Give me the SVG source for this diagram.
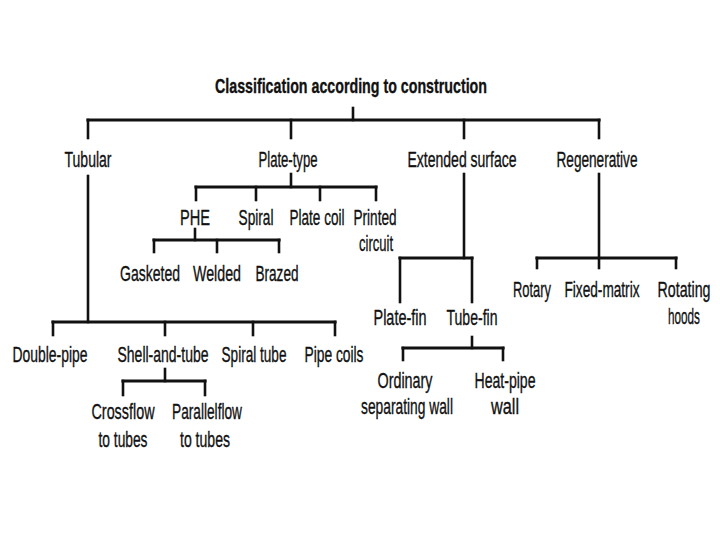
<svg xmlns="http://www.w3.org/2000/svg" width="720" height="540" viewBox="0 0 720 540">
<style>
text{font-family:"Liberation Sans",Arial,sans-serif;font-size:22px;fill:#111;stroke:#111;stroke-width:0.35;text-anchor:middle}
.t{font-weight:bold;font-size:21px}
.c line{stroke:#111;stroke-width:2.6;stroke-linecap:square}
.c .b{stroke-width:3.2}
</style>
<rect width="720" height="540" fill="#fff"/>
<g class="c" id="connectors">
<line x1="353" y1="108" x2="353" y2="120"/>
<line class="b" x1="88" y1="120" x2="599" y2="120"/>
<line x1="88" y1="120" x2="88" y2="138"/>
<line x1="291" y1="120" x2="291" y2="138"/>
<line x1="464" y1="120" x2="464" y2="138"/>
<line x1="599" y1="120" x2="599" y2="138"/>
<line x1="291" y1="174" x2="291" y2="187"/>
<line class="b" x1="196" y1="187" x2="376" y2="187"/>
<line x1="196" y1="187" x2="196" y2="200"/>
<line x1="256" y1="187" x2="256" y2="200"/>
<line x1="320" y1="187" x2="320" y2="200"/>
<line x1="376" y1="187" x2="376" y2="200"/>
<line x1="195" y1="229" x2="195" y2="240"/>
<line class="b" x1="154" y1="240" x2="279" y2="240"/>
<line x1="154" y1="240" x2="154" y2="252"/>
<line x1="217" y1="240" x2="217" y2="252"/>
<line x1="279" y1="240" x2="279" y2="252"/>
<line x1="464" y1="174" x2="464" y2="258"/>
<line class="b" x1="400" y1="258" x2="472" y2="258"/>
<line x1="400" y1="258" x2="400" y2="302"/>
<line x1="472" y1="258" x2="472" y2="302"/>
<line x1="599" y1="174" x2="599" y2="268"/>
<line class="b" x1="537" y1="258" x2="676" y2="258"/>
<line x1="537" y1="258" x2="537" y2="268"/>
<line x1="676" y1="258" x2="676" y2="268"/>
<line x1="88" y1="176" x2="88" y2="322"/>
<line class="b" x1="53" y1="322" x2="335" y2="322"/>
<line x1="53" y1="322" x2="53" y2="335"/>
<line x1="165" y1="322" x2="165" y2="335"/>
<line x1="253" y1="322" x2="253" y2="335"/>
<line x1="335" y1="322" x2="335" y2="335"/>
<line x1="165" y1="369" x2="165" y2="381"/>
<line class="b" x1="123" y1="381" x2="205" y2="381"/>
<line x1="123" y1="381" x2="123" y2="395"/>
<line x1="205" y1="381" x2="205" y2="395"/>
<line x1="472" y1="337" x2="472" y2="348"/>
<line class="b" x1="403" y1="348" x2="503" y2="348"/>
<line x1="403" y1="348" x2="403" y2="360"/>
<line x1="503" y1="348" x2="503" y2="360"/>
</g>
<g id="root"><text class="t" x="351" y="93" textLength="272" lengthAdjust="spacingAndGlyphs">Classification according to construction</text></g>
<g id="tubular"><text x="88" y="167" textLength="47" lengthAdjust="spacingAndGlyphs">Tubular</text></g>
<g id="plate-type"><text x="288" y="167" textLength="59" lengthAdjust="spacingAndGlyphs">Plate-type</text></g>
<g id="extended"><text x="462" y="167" textLength="109" lengthAdjust="spacingAndGlyphs">Extended surface</text></g>
<g id="regenerative"><text x="597" y="167" textLength="81" lengthAdjust="spacingAndGlyphs">Regenerative</text></g>
<g id="phe"><text x="195" y="225" textLength="30" lengthAdjust="spacingAndGlyphs">PHE</text></g>
<g id="spiral"><text x="256" y="225" textLength="35" lengthAdjust="spacingAndGlyphs">Spiral</text></g>
<g id="platecoil"><text x="317" y="225" textLength="55" lengthAdjust="spacingAndGlyphs">Plate coil</text></g>
<g id="printed"><text x="375" y="225" textLength="43" lengthAdjust="spacingAndGlyphs">Printed</text><text x="376" y="251" textLength="34" lengthAdjust="spacingAndGlyphs">circuit</text></g>
<g id="gasketed"><text x="150" y="281" textLength="60" lengthAdjust="spacingAndGlyphs">Gasketed</text></g>
<g id="welded"><text x="217" y="281" textLength="48" lengthAdjust="spacingAndGlyphs">Welded</text></g>
<g id="brazed"><text x="277" y="281" textLength="43" lengthAdjust="spacingAndGlyphs">Brazed</text></g>
<g id="platefin"><text x="400" y="325" textLength="53" lengthAdjust="spacingAndGlyphs">Plate-fin</text></g>
<g id="tubefin"><text x="472" y="325" textLength="51" lengthAdjust="spacingAndGlyphs">Tube-fin</text></g>
<g id="rotary"><text x="532" y="297" textLength="38" lengthAdjust="spacingAndGlyphs">Rotary</text></g>
<g id="fixedmatrix"><text x="602" y="297" textLength="75" lengthAdjust="spacingAndGlyphs">Fixed-matrix</text></g>
<g id="rotating"><text x="684" y="297" textLength="53" lengthAdjust="spacingAndGlyphs">Rotating</text><text x="684" y="324" textLength="32" lengthAdjust="spacingAndGlyphs">hoods</text></g>
<g id="doublepipe"><text x="50" y="362" textLength="75" lengthAdjust="spacingAndGlyphs">Double-pipe</text></g>
<g id="shell"><text x="163" y="362" textLength="91" lengthAdjust="spacingAndGlyphs">Shell-and-tube</text></g>
<g id="spiraltube"><text x="254" y="362" textLength="65" lengthAdjust="spacingAndGlyphs">Spiral tube</text></g>
<g id="pipecoils"><text x="334" y="362" textLength="59" lengthAdjust="spacingAndGlyphs">Pipe coils</text></g>
<g id="crossflow"><text x="123" y="419" textLength="63" lengthAdjust="spacingAndGlyphs">Crossflow</text><text x="123" y="447" textLength="49" lengthAdjust="spacingAndGlyphs">to tubes</text></g>
<g id="parallelflow"><text x="207" y="419" textLength="70" lengthAdjust="spacingAndGlyphs">Parallelflow</text><text x="205" y="447" textLength="50" lengthAdjust="spacingAndGlyphs">to tubes</text></g>
<g id="ordinary"><text x="405" y="388" textLength="55" lengthAdjust="spacingAndGlyphs">Ordinary</text><text x="407" y="414" textLength="92" lengthAdjust="spacingAndGlyphs">separating wall</text></g>
<g id="heatpipe"><text x="505" y="388" textLength="61" lengthAdjust="spacingAndGlyphs">Heat-pipe</text><text x="505" y="414" textLength="28" lengthAdjust="spacingAndGlyphs">wall</text></g>
</svg>
